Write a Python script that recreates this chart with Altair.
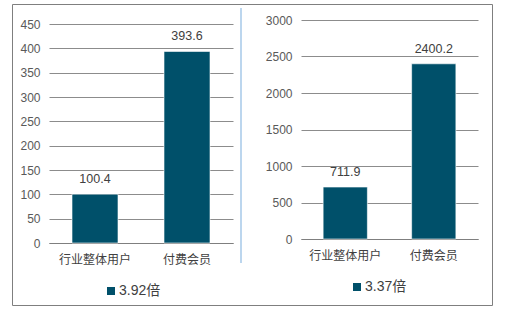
import altair as alt
import pandas as pd

categories = ["行业整体用户", "付费会员"]
left_values = [100.4, 393.6]
right_values = [711.9, 2400.2]
left_series = "3.92倍"
right_series = "3.37倍"
left_ticks = [0, 50, 100, 150, 200, 250, 300, 350, 400, 450]
right_ticks = [0, 500, 1000, 1500, 2000, 2500, 3000]

BAR = "#00506A"
FONT = "Liberation Sans, Arial, Noto Sans CJK SC, sans-serif"


def panel(values, series, ymax, ticks, width, height, yrange, lx, ly, extra=None):
    df = pd.DataFrame({"cat": categories, "value": values, "series": [series] * len(values)})
    x = alt.X("cat:N", sort=categories,
              scale=alt.Scale(paddingInner=0.5, paddingOuter=0.25),
              axis=alt.Axis(title=None, labelAngle=0, ticks=False, domain=True,
                            domainColor="#7F7F7F", domainWidth=1, labelPadding=11,
                            labelFontSize=12, labelColor="#404040", labelFont=FONT))
    y = alt.Y("value:Q",
              scale=alt.Scale(domain=[0, ymax], range=yrange, nice=False, zero=True),
              axis=alt.Axis(title=None, values=ticks, format="d", domain=False, ticks=False,
                            grid=True, gridColor="#8C8C8C", gridWidth=1, labelPadding=9,
                            labelOverlap=False, labelFlush=False,
                            labelFontSize=12, labelColor="#595959", labelFont=FONT))
    bars = alt.Chart(df).mark_bar(stroke="white", strokeWidth=0.6).encode(
        x=x, y=y,
        color=alt.Color("series:N", scale=alt.Scale(range=[BAR]),
                        legend=alt.Legend(title=None, orient="none", legendX=lx, legendY=ly,
                                          symbolType="square", symbolSize=64,
                                          symbolStrokeWidth=0, labelFontSize=14,
                                          labelColor="#404040", labelFont=FONT,
                                          labelOffset=1, padding=0)))
    text = alt.Chart(df).mark_text(dy=-15, baseline="middle", fontSize=12.5,
                                   color="#404040", font=FONT).encode(
        x=x, y=y, text=alt.Text("value:Q", format=".1f"))
    layers = [bars, text]
    if extra:
        layers = extra + layers
    return alt.layer(*layers).properties(width=width, height=height)


one = pd.DataFrame({"a": [0]})
border = alt.Chart(one).mark_rect(filled=False, stroke="#7F7F7F", strokeWidth=1).encode(
    x=alt.value(-36.5), x2=alt.value(443.5), y=alt.value(-15.5), y2=alt.value(285.5))
divider = alt.Chart(one).mark_rule(color="#A6C8E8", strokeWidth=1.5).encode(
    x=alt.value(192), y=alt.value(-12), y2=alt.value(243))

left = panel(left_values, left_series, 450, left_ticks, 184, 223, [223, 4], 55, 264,
             extra=[border, divider])
right = panel(right_values, right_series, 3000, right_ticks, 177, 219, [219, 0], 49, 260)

chart = alt.hconcat(left, right, spacing=68, bounds="flush").resolve_scale(
    color="independent", y="independent", x="independent"
).resolve_legend(color="independent").properties(
    padding={"left": 12, "top": 4, "right": 0, "bottom": 0},
    background="white",
).configure_view(strokeWidth=0)

chart.save("out.html", embed_options={"renderer": "svg", "actions": False})
